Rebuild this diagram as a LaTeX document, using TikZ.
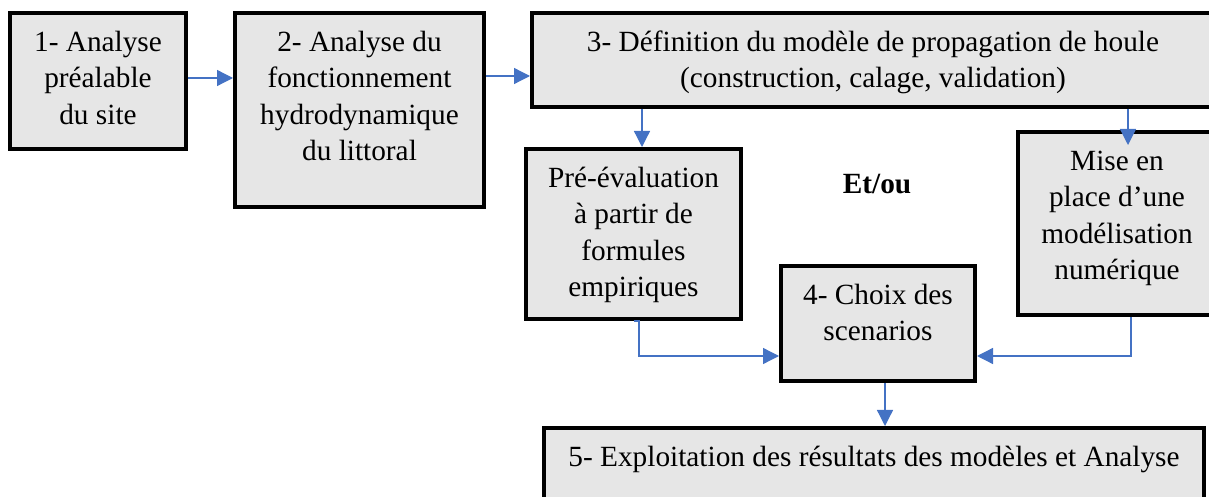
\documentclass[tikz,border=0pt]{standalone}
\usepackage{fontspec}
\setmainfont{Liberation Serif}
\usetikzlibrary{arrows.meta}
\definecolor{boxgray}{HTML}{E6E6E6}
\definecolor{arrblue}{HTML}{4472C4}
\begin{document}
\begin{tikzpicture}[x=1bp,y=-1bp,
  box/.style={draw=black, fill=boxgray, line width=4bp, inner sep=0pt, rectangle},
  txt/.style={anchor=north, inner sep=0pt, align=center, font=\fontsize{29.3bp}{36.5bp}\selectfont},
  conn/.style={draw=arrblue, line width=1.3bp, -{Triangle[length=16bp,width=16bp]}}]
\useasboundingbox (0,0) rectangle (1209,497);
\clip (0,0) rectangle (1209,497);
% boxes
\node[box, minimum width=176bp, minimum height=136bp] (b1) at (98,81) {};
\node[box, minimum width=249bp, minimum height=194bp] (b2) at (359.5,110) {};
\node[box, minimum width=682bp, minimum height=94bp] (b3) at (873,60) {};
\node[box, minimum width=215bp, minimum height=170bp] (pre) at (633.5,234) {};
\node[box, minimum width=198bp, minimum height=183bp] (mise) at (1117,223.5) {};
\node[box, minimum width=194bp, minimum height=115bp] (b4) at (878,323.5) {};
\node[box, minimum width=660bp, minimum height=100bp] (b5) at (874,478) {};
% texts
\node[txt] (t1) at (98,25.5) {\strut 1- Analyse\\préalable\\du site};
\node[txt] (t2) at (359.5,25.5) {\strut 2- Analyse du\\fonctionnement\\hydrodynamique\\du littoral};
\node[txt] (t3) at (873,25.5) {\strut 3- Définition du modèle de propagation de houle\\(construction, calage, validation)};
\node[txt] (tpre) at (633.5,161.5) {\strut Pré-évaluation\\à partir de\\formules\\empiriques};
\node[txt] (tmise) at (1117,144.5) {\strut Mise en\\place d’une\\modélisation\\numérique};
\node[txt] (t4) at (878,278.5) {\strut 4- Choix des\\scenarios};
\node[txt] (t5) at (874,440.5) {\strut 5- Exploitation des résultats des modèles et Analyse};
\node[anchor=base, inner sep=0pt, font=\fontsize{29.3bp}{36.5bp}\selectfont\bfseries] (etou) at (877,194) {Et/ou};
% helper coordinates
\coordinate (ya) at (0,78);
\coordinate (yb) at (0,76);
\coordinate (xp) at (642,0);
\coordinate (xm) at (1128,0);
\coordinate (mtip) at (1128,145);
\coordinate (xpre) at (639,0);
\coordinate (yc) at (0,356);
\coordinate (xmise) at (1131,0);
\coordinate (xd) at (885,0);
% connectors
\draw[conn] (b1.east |- ya) -- (b2.west |- ya);
\draw[conn] (b2.east |- yb) -- (b3.west |- yb);
\draw[conn] (b3.south -| xp) -- (pre.north -| xp);
\draw[conn] (b3.south -| xm) -- (mtip);
\draw[conn] (pre.south) -- (pre.south -| xpre) -- (xpre |- yc) -- (b4.west |- yc);
\draw[conn] (mise.south -| xmise) -- (xmise |- yc) -- (b4.east |- yc);
\draw[conn] (b4.south -| xd) -- (b5.north -| xd);
\end{tikzpicture}
\end{document}
